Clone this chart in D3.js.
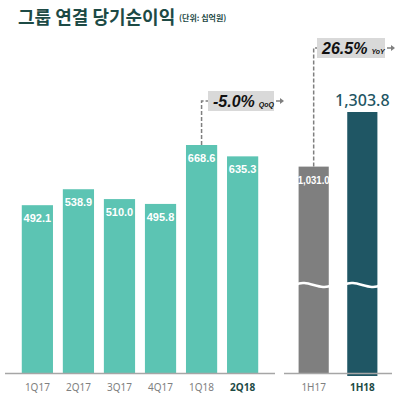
<!DOCTYPE html>
<html>
<head>
<meta charset="utf-8">
<script src="https://cdn.jsdelivr.net/npm/d3@7"></script>
<style>
  body { margin: 0; background: #fff; }
  text { font-family: "Liberation Sans", Arial, sans-serif; }
</style>
</head>
<body>
<div id="chart"></div>
<script>
// quarterly net income (KRW bn)
let quarters = ["1Q17", "2Q17", "3Q17", "4Q17", "1Q18", "2Q18"];
let quarterValues = [492.1, 538.9, 510.0, 495.8, 668.6, 635.3];
let halves = ["1H17", "1H18"];
let halfValues = [1031.0, 1303.8];
let qoqLabel = "-5.0%";
let yoyLabel = "26.5%";

let width = 400, height = 398;
let baseY = 373;

let svg = d3.select("#chart")
    .append("svg")
    .attr("width", width)
    .attr("height", height);

// title
svg.append("text")
    .attr("x", 18).attr("y", 24)
    .style("font-family", "'Noto Sans CJK KR', sans-serif")
    .style("font-size", "18px")
    .style("font-weight", "bold")
    .attr("fill", "#1d4a45")
    .text("그룹 연결 당기순이익");
svg.append("text")
    .attr("x", 179).attr("y", 21)
    .style("font-family", "'Noto Sans CJK KR', sans-serif")
    .style("font-size", "8px")
    .style("font-weight", "bold")
    .attr("fill", "#1d4a45")
    .text("(단위: 십억원)");

// left panel: quarters
let x = d3.scaleBand()
    .domain(quarters)
    .range([7, 273])
    .paddingInner(0.24)
    .paddingOuter(0.36);

let y = d3.scaleLinear()
    .domain([0, 668.6])
    .range([baseY, 145]);

let qData = quarters.map((q, i) => ({ name: q, value: quarterValues[i] }));

svg.selectAll(".qbar").data(qData).enter()
    .append("rect")
    .attr("class", "qbar")
    .attr("x", d => x(d.name))
    .attr("y", d => y(d.value))
    .attr("width", x.bandwidth())
    .attr("height", d => baseY - y(d.value))
    .attr("fill", "#5cc4b3");

svg.selectAll(".qlab").data(qData).enter()
    .append("text")
    .attr("class", "qlab")
    .attr("x", d => x(d.name) + x.bandwidth() / 2)
    .attr("y", d => y(d.value) + 17)
    .attr("text-anchor", "middle")
    .style("font-size", "11px")
    .style("font-weight", "bold")
    .attr("fill", "#fff")
    .text(d => d.value.toFixed(1));

let xAxisQ = svg.append("g")
    .attr("transform", `translate(0, ${baseY})`)
    .call(d3.axisBottom(x).tickSize(0).tickPadding(11));
xAxisQ.select(".domain").attr("d", "M5,0.5H275").attr("stroke", "#a6a6a6").attr("stroke-width", 1.5);
xAxisQ.selectAll("text")
    .style("font-family", "'Noto Sans', sans-serif")
    .style("font-size", "10px")
    .attr("fill", d => d == "2Q18" ? "#1d4a45" : "#808080")
    .style("font-weight", d => d == "2Q18" ? "bold" : "normal");

// right panel: half years (broken axis)
let x2 = d3.scaleBand()
    .domain(halves)
    .range([284, 392])
    .paddingInner(0.38)
    .paddingOuter(0.3);

let y2 = d3.scaleLinear()
    .domain([0, 1303.8])
    .range([baseY, 112]);

let hData = halves.map((h, i) => ({ name: h, value: halfValues[i] }));
let hColor = ["#7f7f7f", "#1f5664"];

svg.selectAll(".hbar").data(hData).enter()
    .append("rect")
    .attr("class", "hbar")
    .attr("x", d => x2(d.name))
    .attr("y", d => y2(d.value))
    .attr("width", x2.bandwidth())
    .attr("height", (d, i) => baseY - y2(d.value) + (i == 1 ? 3 : 0))
    .attr("fill", (d, i) => hColor[i]);

// wavy break
svg.selectAll(".wave").data(hData).enter()
    .append("path")
    .attr("class", "wave")
    .attr("d", d => {
        let x0 = x2(d.name) - 3, w = x2.bandwidth() + 6, yy = 285;
        return `M${x0},${yy} C${x0 + w * 0.3},${yy - 7} ${x0 + w * 0.7},${yy + 7} ${x0 + w},${yy}`;
    })
    .attr("fill", "none")
    .attr("stroke", "#fff")
    .attr("stroke-width", 2.5);

svg.append("text")
    .attr("x", x2("1H17") + x2.bandwidth() / 2)
    .attr("y", y2(1031.0) + 17)
    .attr("text-anchor", "middle")
    .attr("textLength", 32)
    .attr("lengthAdjust", "spacingAndGlyphs")
    .style("font-size", "11px")
    .style("font-weight", "bold")
    .attr("fill", "#fff")
    .text("1,031.0");

svg.append("text")
    .attr("x", x2("1H18") + x2.bandwidth() / 2)
    .attr("y", y2(1303.8) - 6)
    .attr("text-anchor", "middle")
    .style("font-family", "'Noto Sans', sans-serif")
    .style("font-size", "16px")
    .style("font-weight", 500)
    .attr("fill", "#1f5664")
    .text("1,303.8");

let xAxisH = svg.append("g")
    .attr("transform", `translate(0, ${baseY})`)
    .call(d3.axisBottom(x2).tickSize(0).tickPadding(11));
xAxisH.select(".domain").attr("d", "M284,0.5H392").attr("stroke", "#a6a6a6").attr("stroke-width", 1.5);
xAxisH.selectAll("text")
    .style("font-family", "'Noto Sans', sans-serif")
    .style("font-size", "10px")
    .attr("fill", d => d == "1H18" ? "#1d4a45" : "#808080")
    .style("font-weight", d => d == "1H18" ? "bold" : "normal");

// growth callouts
function callout(lineX, barTop, boxX, boxY, boxW, big, small) {
    let midY = boxY + 10;
    svg.append("path")
        .attr("d", `M${lineX},${barTop} V${midY} H${boxX}`)
        .attr("fill", "none")
        .attr("stroke", "#7f7f7f")
        .attr("stroke-width", 1.5)
        .attr("stroke-dasharray", "4,2");
    svg.append("rect")
        .attr("x", boxX).attr("y", boxY)
        .attr("width", boxW).attr("height", 20)
        .attr("fill", "#d9d9d9");
    let t = svg.append("text")
        .attr("x", boxX + 5).attr("y", boxY + 16)
        .style("font-style", "italic")
        .style("font-weight", "bold")
        .attr("fill", "#111");
    t.append("tspan").style("font-size", "16px").text(big);
    t.append("tspan").attr("dx", 4).style("font-size", "7px").text(small);
    // arrow
    svg.append("line")
        .attr("x1", boxX + boxW + 2).attr("x2", boxX + boxW + 6)
        .attr("y1", midY).attr("y2", midY)
        .attr("stroke", "#7f7f7f").attr("stroke-width", 1.5);
    svg.append("path")
        .attr("d", `M${boxX + boxW + 6},${midY - 3} L${boxX + boxW + 10},${midY} L${boxX + boxW + 6},${midY + 3} Z`)
        .attr("fill", "#7f7f7f");
}

callout(x("1Q18") + x.bandwidth() / 2, y(668.6), 208, 91, 66, qoqLabel, "QoQ");
callout(x2("1H17") + x2.bandwidth() / 2, y2(1031.0), 317, 38, 68, yoyLabel, "YoY");
</script>
</body>
</html>
